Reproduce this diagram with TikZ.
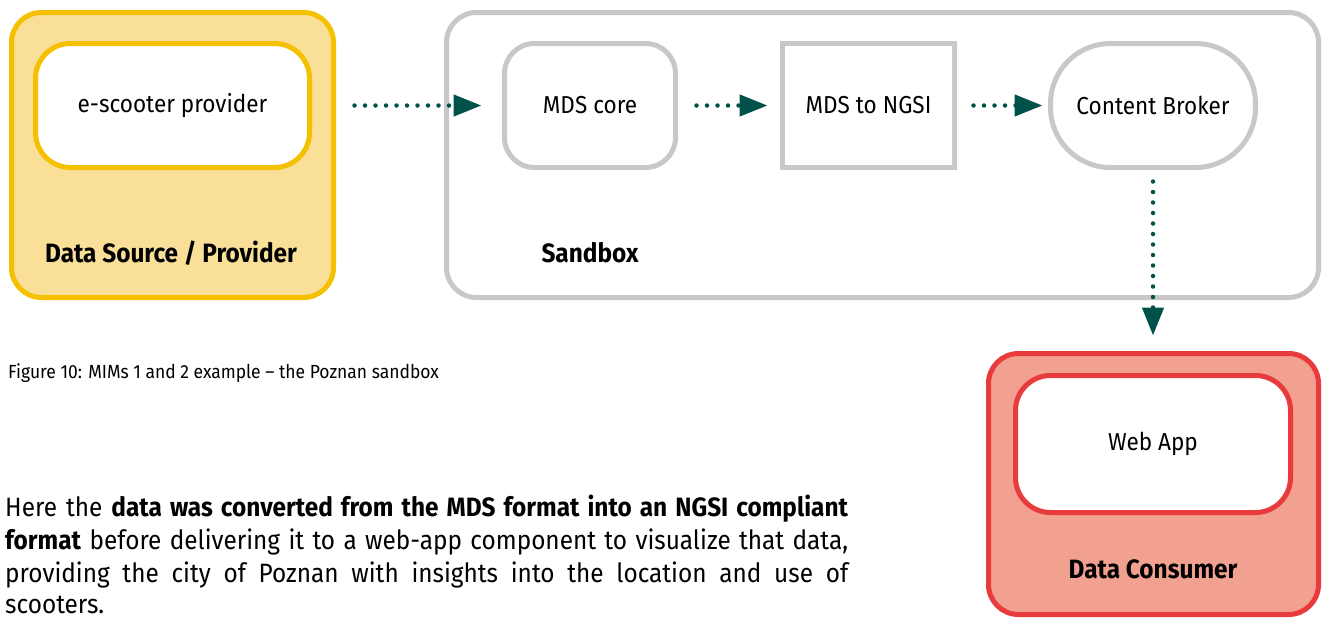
\documentclass[tikz,border=0pt]{standalone}
\usepackage{fontspec}
\setmainfont{Fira Sans}[FakeStretch=0.92]
\usetikzlibrary{arrows.meta}
\definecolor{ygold}{HTML}{F5C000}
\definecolor{yfill}{HTML}{FADF99}
\definecolor{gline}{HTML}{C8C8C8}
\definecolor{rline}{HTML}{E83C3C}
\definecolor{rfill}{HTML}{F2A08F}
\definecolor{agreen}{HTML}{00514A}
\newcommand\jline[1]{\makebox[843pt][s]{#1}}
\begin{document}
\begin{tikzpicture}[x=1pt,y=-1pt,
  container/.style={draw, line width=5pt, rounded corners=30pt, inner sep=0pt},
  comp/.style={draw, line width=5pt, fill=white, inner sep=0pt, text=black,
     font=\fontsize{24.5}{28}\selectfont},
  grouptitle/.style={anchor=base, font=\fontsize{26.5}{30}\selectfont\bfseries},
  flow/.style={draw=agreen, line width=4.5pt, line cap=round,
     dash pattern=on 0pt off 10.5pt,
     -{Triangle[length=28pt,width=21pt,fill=agreen]}},
  bodytext/.style={anchor=base west, inner sep=0pt, font=\fontsize{26.5}{34}\selectfont}
]
\useasboundingbox (0,0) rectangle (1324,619);
\fill[white] (0,0) rectangle (1324,619);

% containers
\node[container, draw=ygold, fill=yfill, minimum width=322pt, minimum height=285pt] (src) at (172.5,155) {};
\node[container, draw=gline, fill=white, minimum width=872pt, minimum height=285pt] (sbx) at (882.5,155) {};
\node[container, draw=rline, fill=rfill, minimum width=330pt, minimum height=261pt] (cons) at (1153.5,484) {};

% components
\node[comp, draw=ygold, rounded corners=35pt, minimum width=274pt, minimum height=124pt] (esp) at (172.5,105.5) {e-scooter provider};
\node[comp, draw=gline, rounded corners=30pt, minimum width=171pt, minimum height=124pt] (mds) at (590,105.5) {MDS core};
\node[comp, draw=gline, minimum width=172pt, minimum height=124pt] (ngsi) at (868.5,105.5) {MDS to NGSI};
\node[comp, draw=gline, rounded corners=60pt, minimum width=205pt, minimum height=124pt] (cb) at (1153,105.5) {Content Broker};
\node[comp, draw=rline, rounded corners=35pt, minimum width=275pt, minimum height=137pt] (web) at (1153,444) {Web App};

% group titles
\node[grouptitle] (srct) at (171,262) {Data Source / Provider};
\node[grouptitle] (sbxt) at (590,262) {Sandbox};
\node[grouptitle] (const) at (1153,578) {Data Consumer};

% flows
\draw[flow, shorten <=42.5pt, shorten >=20.5pt] (esp.east) -- (mds.west);
\draw[flow, shorten <=18.5pt, shorten >=12.5pt] (mds.east) -- (ngsi.west);
\draw[flow, shorten <=16.5pt, shorten >=5.5pt] (ngsi.east) -- (cb.west);
\draw[flow, shorten <=11.5pt, shorten >=15.5pt] (cb.south) -- (cb.south |- cons.north);

% caption and paragraph
\node[anchor=base west, inner sep=0pt, font=\fontsize{19}{22}\selectfont] (cap) at (8,378) {Figure 10: MIMs 1 and 2 example -- the Poznan sandbox};
\node[bodytext] (p1) at (5,516) {\jline{Here the \textbf{data was converted from the MDS format into an NGSI compliant}}};
\node[bodytext] (p2) at (5,549) {\jline{\textbf{format} before delivering it to a web-app component to visualize that data,}};
\node[bodytext] (p3) at (5,582) {\jline{providing the city of Poznan with insights into the location and use of}};
\node[bodytext] (p4) at (5,613) {scooters.};
\end{tikzpicture}
\end{document}
